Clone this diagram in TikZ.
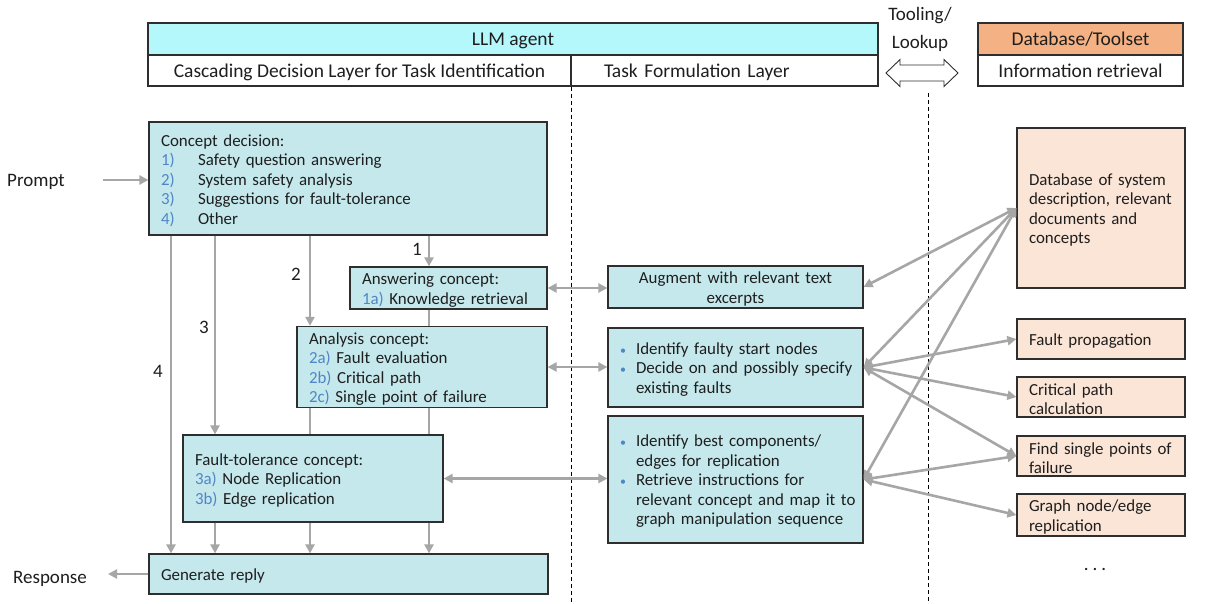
\documentclass[tikz,border=0pt]{standalone}
\usepackage{fontspec}
\setmainfont{Carlito}
\usetikzlibrary{arrows.meta,calc}
\definecolor{hdrcyan}{HTML}{B4F8FC}
\definecolor{boxteal}{HTML}{C5E8EC}
\definecolor{dborange}{HTML}{F4B183}
\definecolor{peach}{HTML}{FBE5D6}
\definecolor{nb}{HTML}{4F86C6}
\definecolor{arrgray}{HTML}{A6A6A6}
\definecolor{txt}{HTML}{1E1E1E}
\definecolor{bord}{HTML}{2E2E2E}
\newcommand\nbx[1]{\makebox[37pt][l]{\textcolor{nb}{#1}}}
\newcommand\bul{\makebox[16pt][l]{\textcolor{nb}{\fontsize{12}{12}\selectfont\textbullet}}}
\newcommand\bulsp{\hspace*{16pt}}
\newcommand\topstrut{\raisebox{4pt}{\vphantom{Ad}}}
\begin{document}
\begin{tikzpicture}[x=1pt,y=-1pt,
  bodyfont/.style={font=\fontsize{16.9}{19.5}\selectfont},
  tbox/.style={draw=bord, line width=1.2pt, fill=boxteal, inner xsep=12pt, inner ysep=2pt, align=left, text=txt, bodyfont, execute at begin node={\topstrut}},
  pbox/.style={tbox, fill=peach},
  sz/.code 2 args={\pgfmathsetlengthmacro\tw{#1-24}\edef\tmp{\noexpand\tikzset{minimum width=#1pt,minimum height=#2pt,text width=\tw}}\tmp},
  hdr/.style={draw=bord, line width=1.2pt, fill=white, inner sep=0pt, text=txt, font=\fontsize{19.5}{22}\selectfont, text height=16pt, text depth=2pt},
  lbl/.style={text=txt, inner sep=0pt, font=\fontsize{19}{22}\selectfont},
  arr/.style={draw=arrgray, line width=2.6pt, -{Triangle[length=9pt,width=9pt]}},
  biarr/.style={draw=arrgray, line width=2.6pt, {Triangle[length=9pt,width=9pt]}-{Triangle[length=9pt,width=9pt]}},
  ln/.style={draw=arrgray, line width=2.6pt},
  dashln/.style={draw=black, line width=0.9pt, dash pattern=on 4pt off 3pt}]
\useasboundingbox (0,0) rectangle (1225,604);
\fill[white] (0,0) rectangle (1225,604);

% header
\node[hdr, fill=hdrcyan, minimum width=730pt, minimum height=32pt] (llm) at (513,39) {LLM agent};
\node[hdr, minimum width=423pt, minimum height=31pt] (cdl) at (359.5,70.5) {Cascading Decision Layer for Task Identification};
\node[hdr, minimum width=307pt, minimum height=31pt, inner xsep=33pt, text width=241pt, align=left] (tfl) at (724.5,70.5) {Task Formulation Layer};
\node[hdr, fill=dborange, minimum width=205pt, minimum height=32pt] (dbt) at (1080.5,39) {Database/Toolset};
\node[hdr, minimum width=205pt, minimum height=31pt] (ir) at (1080.5,70.5) {Information retrieval};
\node[lbl, align=center, font=\fontsize{19}{28}\selectfont] (tool) at (920,29) {Tooling/\\Lookup};
\draw[draw=bord, line width=0.9pt, fill=white] (886,73) -- (900,59.5) -- (900,65) -- (944,65) -- (944,59.5) -- (958,73) -- (944,86.5) -- (944,81) -- (900,81) -- (900,86.5) -- cycle;

% dashed separators
\draw[dashln] (cdl.south east) -- (cdl.south east |- 0,604);
\draw[dashln] (928,93) -- (928,604);

% left column
\node[tbox, sz={398}{113}] (concept) at (348,178.5) {Concept decision:\\
\nbx{1)}Safety question answering\\
\nbx{2)}System safety analysis\\
\nbx{3)}Suggestions for fault-tolerance\\
\nbx{4)}Other};
\node[tbox, sz={197}{42}] (answer) at (448.5,288) {Answering concept:\\ \textcolor{nb}{1a)} Knowledge retrieval};
\node[tbox, sz={250}{80}] (analysis) at (422,367) {Analysis concept:\\ \textcolor{nb}{2a)} Fault evaluation\\ \textcolor{nb}{2b)} Critical path\\ \textcolor{nb}{2c)} Single point of failure};
\node[tbox, sz={260}{87}] (ft) at (313,478.5) {Fault-tolerance concept:\\ \textcolor{nb}{3a)} Node Replication\\ \textcolor{nb}{3b)} Edge replication};
\node[tbox, sz={399}{40}] (gen) at (348.5,574) {Generate reply};

% middle column
\node[tbox, sz={255}{42}, align=center] (aug) at (735.5,287) {Augment with relevant text\\excerpts};
\node[tbox, sz={255}{79}] (ident) at (735.5,367.5) {\mbox{\bul Identify faulty start nodes}\\ \mbox{\bul Decide on and possibly specify}\\ \mbox{\bulsp existing faults}};
\node[tbox, sz={255}{127}] (ibest) at (735.5,479.5) {\mbox{\bul Identify best components/}\\ \mbox{\bulsp edges for replication}\\ \mbox{\bul Retrieve instructions for}\\ \mbox{\bulsp relevant concept and map it to}\\ \mbox{\bulsp graph manipulation sequence}};

% right column
\node[pbox, sz={168}{160}] (db) at (1101,208) {Database of system\\description, relevant\\documents and\\concepts};
\node[pbox, sz={168}{40}] (fp) at (1101,339) {Fault propagation};
\node[pbox, sz={168}{40}] (cp) at (1101,397) {Critical path\\calculation};
\node[pbox, sz={168}{40}] (sp) at (1101,456) {Find single points of\\failure};
\node[pbox, sz={168}{41}] (gr) at (1101,515) {Graph node/edge\\replication};
\node[lbl] (dots) at (1095,569) {.\hspace{4pt}.\hspace{4pt}.};

% prompt / response
\node[lbl] (prompt) at (36,182) {Prompt};
\node[lbl] (resp) at (50,579) {Response};
\coordinate (pin) at (103,180);
\coordinate (pout) at (108,574);
\draw[arr] (pin) -- (pin -| concept.west);
\draw[arr] (gen.west) -- (pout);

% vertical cascade
\coordinate (k1) at (429,0);
\coordinate (k2) at (310,0);
\coordinate (k3) at (215,0);
\coordinate (k4) at (171,0);
\draw[arr] (concept.south -| k1) -- (answer.north -| k1);
\draw[ln] (answer.south -| k1) -- (analysis.north -| k1);
\draw[ln] (analysis.south -| k1) -- (ft.north -| k1);
\draw[arr] (ft.south -| k1) -- (gen.north -| k1);
\draw[arr] (concept.south -| k2) -- (analysis.north -| k2);
\draw[ln] (analysis.south -| k2) -- (ft.north -| k2);
\draw[arr] (ft.south -| k2) -- (gen.north -| k2);
\draw[arr] (concept.south -| k3) -- (ft.north -| k3);
\draw[arr] (ft.south -| k3) -- (gen.north -| k3);
\draw[arr] (concept.south -| k4) -- (gen.north -| k4);
\node[lbl] (n1) at (417,249) {1};
\node[lbl] (n2) at (296,274) {2};
\node[lbl] (n3) at (204,327) {3};
\node[lbl] (n4) at (158,371) {4};

% horizontal links
\draw[biarr] (answer.east) -- (aug.west |- answer.east);
\draw[biarr] (analysis.east) -- (ident.west |- analysis.east);
\draw[biarr] (ft.east) -- (ibest.west |- ft.east);

% tooling links
\draw[biarr] (db.west) -- (aug.east);
\draw[biarr] (db.west) -- (ident.east);
\draw[biarr] (db.west) -- (ibest.east);
\draw[biarr] (ident.east) -- (fp.west);
\draw[biarr] (ident.east) -- (cp.west);
\draw[biarr] (ident.east) -- (sp.west);
\draw[biarr] (ibest.east) -- (sp.west);
\draw[biarr] (ibest.east) -- (gr.west);
\end{tikzpicture}
\end{document}
